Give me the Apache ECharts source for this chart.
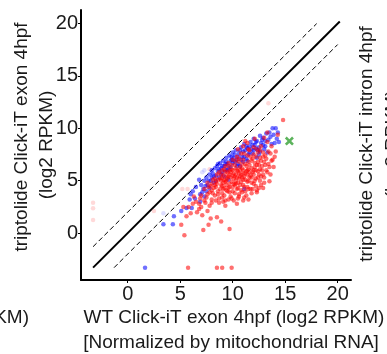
<!DOCTYPE html>
<html>
<head>
<meta charset="utf-8">
<script src="https://cdn.jsdelivr.net/npm/echarts@6/dist/echarts.min.js"></script>
<style>html,body{margin:0;padding:0;background:#fff;}#c{width:387px;height:354px;}</style>
</head>
<body>
<div id="c"></div>
<script>
var xTicks = [0, 5, 10, 15, 20];
var yTicks = [0, 5, 10, 15, 20];

var redPoints = [
[7.0,3.6],[7.3,4.2],[7.5,3.4],[7.6,4.8],[7.8,3.9],[7.9,4.5],[8.0,3.2],[8.1,5.1],[8.2,4.3],[8.3,3.6],[8.4,4.9],[8.5,5.6],[8.6,4.0],[8.7,3.3],[8.8,5.2],[8.9,4.6],[9.0,6.0],[9.0,3.8],[9.1,5.5],[9.2,4.3],[9.3,6.4],[9.3,3.1],[9.4,5.0],[9.5,5.8],[9.5,4.0],[9.6,6.7],[9.7,4.7],[9.8,5.3],[9.8,3.5],[9.9,6.1],[10.0,4.4],[10.0,7.0],[10.1,5.7],[10.2,3.8],[10.2,6.5],[10.3,5.0],[10.4,4.2],[10.4,7.3],[10.5,5.9],[10.5,3.3],[10.6,6.8],[10.7,4.6],[10.7,5.4],[10.8,7.6],[10.9,6.2],[10.9,3.9],[11.0,5.1],[11.0,7.0],[11.1,4.4],[11.2,6.6],[11.2,5.7],[11.3,3.6],[11.4,7.4],[11.4,4.9],[11.5,6.1],[11.6,5.3],[11.6,7.9],[11.7,4.2],[11.8,6.9],[11.9,5.8],[12.0,4.7],[12.0,7.5],[12.1,6.3],[12.2,5.2],[12.3,8.0],[12.3,3.9],[12.4,6.8],[12.5,5.6],[12.6,7.2],[12.7,4.6],[12.8,6.0],[12.9,7.7],[13.0,5.3],[13.1,6.5],[13.2,7.1],[13.3,5.8],[13.5,6.3],[13.6,7.6],
[9.2,5.1],[9.4,4.6],[9.6,5.4],[9.7,6.0],[9.9,4.9],[10.1,5.2],[10.3,5.6],[10.3,6.2],[10.5,4.8],[10.6,5.2],[10.8,5.6],[10.8,4.9],[11.0,6.0],[11.1,5.4],[11.3,5.9],[11.3,6.4],[11.5,5.0],[11.7,5.5],[11.8,6.2],[12.0,5.6],[12.2,6.0],[12.4,5.9],[10.0,5.5],[9.8,5.8],[10.4,6.0],[10.9,6.6],[11.5,6.8],[11.9,7.1],[12.5,6.5],[12.7,6.9],[12.2,7.3],[12.8,6.4],[13.0,6.8],[8.7,5.8],[8.9,5.0],[9.1,4.8],[9.4,5.4],[8.4,4.4],[8.8,4.2],[9.0,4.5],[9.6,4.3],[10.0,4.0],[10.5,4.3],[11.0,4.6],[11.4,4.4],[11.8,4.8],[12.2,4.5],[12.6,5.0],[8.0,4.7],[8.3,5.2],[7.7,4.4],[8.1,3.8],[8.6,3.7],[9.2,3.6],[9.7,3.9],[10.8,4.1],[11.2,4.0],[11.9,4.2],[10.3,4.7],[9.3,5.8],[9.9,6.5],[10.6,7.1],[11.1,7.6],[11.7,7.3],[12.4,7.7],[12.9,7.3],[13.4,7.8],[13.8,7.0],[13.7,8.3],[14.0,7.3],[13.3,8.7],[12.7,8.3],
[9.5,5.2],[10.2,5.4],[10.7,6.0],[11.6,6.5],[12.1,6.7],[9.1,4.2],[10.6,3.7],[11.5,4.2],[12.4,5.3],[8.5,4.7],[9.7,4.4],[10.9,5.3],[11.4,5.6],[10.2,4.6],[9.4,4.1],
[9.0,5.2],[9.3,4.9],[9.7,5.6],[10.0,6.0],[10.1,4.7],[10.4,5.3],[10.6,5.7],[10.7,6.3],[11.0,5.7],[11.2,5.1],[11.4,6.0],[11.6,5.8],[11.8,5.3],[12.0,6.0],[12.1,5.0],[12.3,6.5],[12.6,6.1],[12.9,5.6],[13.2,6.0],[13.4,6.6],[13.7,6.9],[13.1,7.4],[12.6,7.9],[12.0,8.2],[11.5,8.0],[10.3,6.9],[9.6,6.4],[9.2,6.1],[8.9,5.6],[8.6,5.1],[8.3,4.6],[8.0,4.1],[7.6,3.7],[7.3,3.1],[8.4,3.1],[9.0,3.4],[9.9,3.3],[10.6,3.5],[11.1,3.4],[11.8,3.8],[12.5,4.3],[13.0,4.8],[12.7,5.4],[13.6,5.6],[13.9,6.3],[14.1,7.8],[8.0,2.9],[7.6,2.1],[6.8,2.3],[6.0,1.9],[9.3,2.6],[10.4,2.8],[9.1,3.0],
[6.5,3.0],[6.8,2.8],[6.3,3.5],[5.8,2.5],[5.3,2.5],[5.6,1.6],[6.6,2.0],[7.0,2.5],[7.8,2.6],[7.1,1.7],[7.9,1.4],[8.5,1.5],[9.7,0.4],[8.9,1.1],[7.7,0.8],[7.2,0.3],[5.1,0.8],[5.4,-0.2],[10.1,3.1],[11.0,3.1],[11.5,3.2],[12.3,4.1],[12.9,4.3],[13.5,4.95],[6.2,2.8],[6.9,3.3],[7.4,2.9],[8.7,2.9],[9.6,3.2],
[14.8,10.8],[13.3,9.6],[14.3,9.4],[13.0,9.1],[12.1,9.0],[11.4,8.6],[11.0,8.3],[10.5,8.0],[11.2,8.8],
[5.75,-3.3],[8.5,-3.3],[9.0,-3.3],[9.9,-3.3]
];

var bluePoints = [
[6.9,3.7],[7.0,4.6],[7.2,4.2],[7.3,5.0],[7.5,5.3],[7.6,4.6],[7.8,5.6],[7.9,5.0],[8.0,6.0],[8.2,5.4],[8.3,6.2],[8.5,6.4],[8.6,5.9],[8.8,6.7],[8.9,6.2],[9.1,6.9],[9.2,6.4],[9.4,7.2],[9.5,6.6],[9.7,7.4],[9.8,6.9],[10.0,7.7],[10.1,7.2],[10.3,7.9],[10.4,7.0],[10.6,7.6],[10.8,8.2],[10.9,7.3],[11.1,8.5],[11.2,7.9],[11.4,8.1],[11.5,7.5],[11.7,8.7],[11.8,8.0],[12.0,9.0],[12.1,8.4],[12.3,8.8],[12.4,7.9],[12.6,9.3],[12.7,8.6],[12.9,9.1],[13.1,8.3],[13.2,9.5],[13.4,8.9],[13.6,9.2],[13.8,10.0],[14.1,10.0],[14.3,9.6],[14.0,8.6],[14.4,8.7],
[8.4,5.0],[8.9,5.6],[9.3,6.0],[9.8,6.3],[10.2,6.8],[10.7,6.4],[11.3,7.1],[11.9,7.6],[12.5,7.5],[13.0,8.0],[11.0,6.8],[10.5,6.6],[9.6,5.1],[7.5,4.0],[8.2,4.8],[9.0,6.4],[9.4,6.8],[8.7,6.1],[9.9,7.0],[11.6,8.3],[12.2,8.1],
[8.1,5.7],[8.4,5.5],[8.7,5.3],[9.0,5.8],[9.3,6.6],[9.6,6.2],[9.9,7.3],[10.2,7.5],[10.5,7.3],[10.8,7.0],[11.0,7.8],[11.3,8.3],[11.6,7.7],[11.9,8.4],[12.2,8.7],[12.5,8.2],[12.8,8.9],[13.1,8.8],[13.5,9.6],[13.9,9.4],[12.0,7.9],[12.9,8.4],[10.7,7.9],[10.0,6.7],[9.5,6.0],[8.6,6.6],[8.0,5.3],[7.7,5.0],[7.4,4.5],[7.1,3.9],[7.8,4.3],[9.2,5.4],[10.4,6.4],[11.4,6.9],[12.3,7.2],[13.3,7.7],[13.7,8.5],[12.6,7.8],[11.1,7.3],[14.2,9.0],
[6.2,4.0],[6.5,4.4],[6.8,5.1],[6.4,3.3],[6.9,3.0],[7.3,3.5],[5.1,2.1],[5.6,2.4],[6.1,2.4],[4.4,1.6],[3.4,0.85],[4.3,0.85],[6.0,3.7],[5.9,3.2],[11.1,4.2],[1.65,-3.3]
];

var palePinkPoints = [[-3.3,2.9],[-3.3,2.36],[-3.3,1.24],[2.5,2.1],[5.2,4.2],[5.7,4.2],[7.8,6.1],[13.4,12.4]];
var paleBluePoints = [[3.4,1.9],[7.1,5.8],[7.3,6.0]];
var greenPoint = [[15.4,8.78]];

var identityLine = [[-3.3,-3.3],[20.2,20.2]];
var upperLine = [[-3.3,-1.3],[18.0,20.0]];
var lowerLine = [[-1.3,-3.3],[20.0,18.0]];

var chart = echarts.init(document.getElementById('c'));
var font = 'Liberation Sans, Arial, sans-serif';
var crossPath = 'path://M2,0 L5,3 L8,0 L10,2 L7,5 L10,8 L8,10 L5,7 L2,10 L0,8 L3,5 L0,2 Z';
var tf = '19px ' + font;

chart.setOption({
  animation: false,
  grid: {left: 81, right: 36, top: 10, bottom: 74},
  xAxis: {
    type: 'value', min: -4.45, max: 21.27,
    axisLine: {show: true, onZero: false, lineStyle: {color: '#000', width: 2}},
    axisTick: {show: true, length: 3, customValues: xTicks, lineStyle: {color: '#000', width: 1}},
    axisLabel: {customValues: xTicks, color: '#1a1a1a', fontSize: 20, fontFamily: font, margin: 4},
    splitLine: {show: false}
  },
  yAxis: {
    type: 'value', min: -4.48, max: 21.3,
    axisLine: {show: true, onZero: false, lineStyle: {color: '#000', width: 2}},
    axisTick: {show: true, length: 3, customValues: yTicks, lineStyle: {color: '#000', width: 1}},
    axisLabel: {customValues: yTicks, color: '#1a1a1a', fontSize: 20, fontFamily: font, margin: 3},
    splitLine: {show: false}
  },
  series: [
    {type: 'line', data: identityLine, symbol: 'none', lineStyle: {color: '#000', width: 2}, z: 1},
    {type: 'line', data: upperLine, symbol: 'none', lineStyle: {color: '#000', width: 1, type: [5, 3]}, z: 1},
    {type: 'line', data: lowerLine, symbol: 'none', lineStyle: {color: '#000', width: 1, type: [5, 3]}, z: 1},
    {type: 'scatter', data: palePinkPoints, symbolSize: 4.5, itemStyle: {color: 'rgba(255,120,120,0.35)'}, z: 2},
    {type: 'scatter', data: paleBluePoints, symbolSize: 4.5, itemStyle: {color: 'rgba(120,120,255,0.3)'}, z: 2},
    {type: 'scatter', data: bluePoints, symbolSize: 4.5, itemStyle: {color: 'rgba(0,0,255,0.7)'}, z: 3},
    {type: 'scatter', data: redPoints, symbolSize: 4.5, itemStyle: {color: 'rgba(255,0,0,0.7)'}, z: 4},
    {type: 'scatter', data: greenPoint, symbol: crossPath, symbolSize: 9, itemStyle: {color: '#33a033'}, z: 5}
  ],
  graphic: [
    {type: 'text', x: 22, y: 137, rotation: Math.PI/2, style: {text: 'triptolide Click-iT exon 4hpf', font: tf, fill: '#1a1a1a', textAlign: 'center', textVerticalAlign: 'middle'}},
    {type: 'text', x: 47, y: 145, rotation: Math.PI/2, style: {text: '(log2 RPKM)', font: tf, fill: '#1a1a1a', textAlign: 'center', textVerticalAlign: 'middle'}},
    {type: 'text', x: 367, y: 144, rotation: Math.PI/2, style: {text: 'triptolide Click-iT intron 4hpf', font: tf, fill: '#1a1a1a', textAlign: 'center', textVerticalAlign: 'middle'}},
    {type: 'text', x: 393, y: 144, rotation: Math.PI/2, style: {text: '(log2 RPKM)', font: tf, fill: '#1a1a1a', textAlign: 'center', textVerticalAlign: 'middle'}},
    {type: 'text', x: 234, y: 318, style: {text: 'WT Click-iT exon 4hpf (log2 RPKM)', font: tf, fill: '#1a1a1a', textAlign: 'center', textVerticalAlign: 'middle'}},
    {type: 'text', x: 231, y: 343, style: {text: '[Normalized by mitochondrial RNA]', font: tf, fill: '#1a1a1a', textAlign: 'center', textVerticalAlign: 'middle'}},
    {type: 'text', x: 29, y: 318, style: {text: 'WT Click-iT intron 4hpf (log2 RPKM)', font: tf, fill: '#1a1a1a', textAlign: 'right', textVerticalAlign: 'middle'}}
  ]
});
</script>
</body>
</html>
